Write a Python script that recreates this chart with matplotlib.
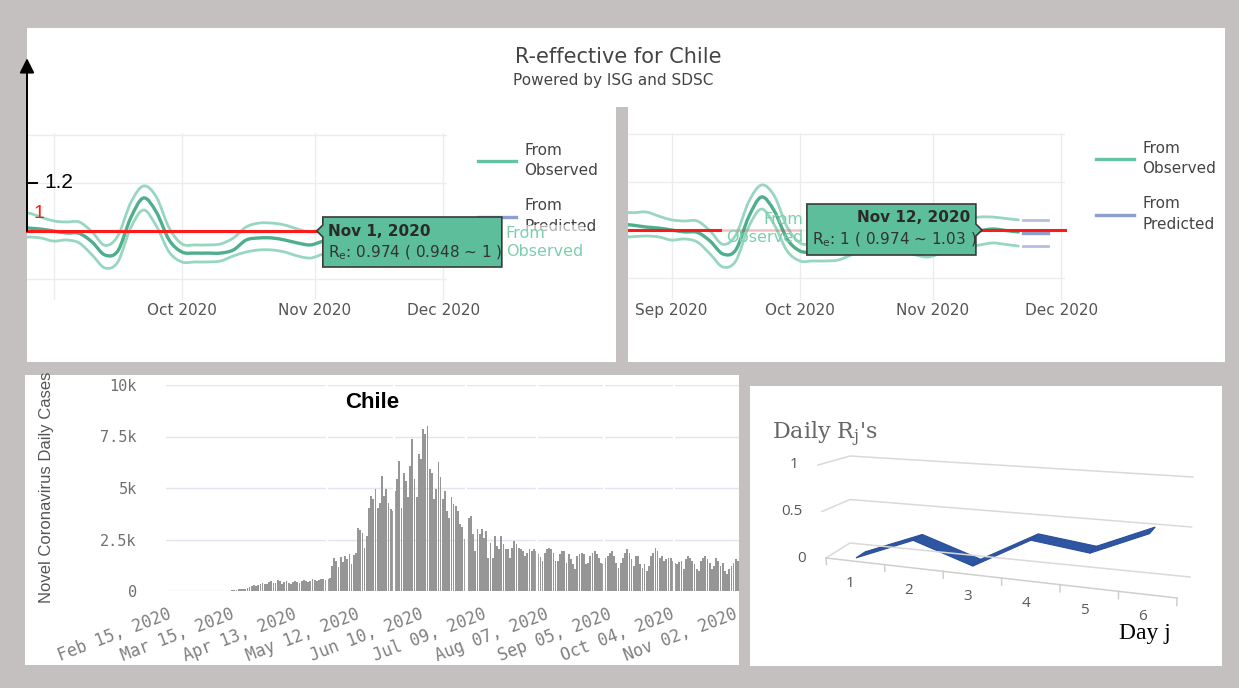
import numpy as np
import pandas as pd
import matplotlib
matplotlib.use('Agg')
import matplotlib.pyplot as plt
import matplotlib.dates as mdates
from matplotlib.patches import Rectangle, Polygon, PathPatch
from matplotlib.path import Path
from matplotlib.lines import Line2D

W, H = 1239, 688
GREY_BG = '#c4c0c0'
GREEN = '#66c2a5'
GREEN_DARK = '#4fae8c'
GREEN_BAND = '#98d7bf'
BLUE = '#8da0cb'
RED = '#ff1a1a'

# ── R-effective (from observed) ────────────────────────────────────────────
R_DATES = pd.to_datetime([
    '2020-08-20', '2020-08-23', '2020-08-26', '2020-08-29', '2020-09-01', '2020-09-04',
    '2020-09-07', '2020-09-10', '2020-09-13', '2020-09-16', '2020-09-19', '2020-09-22',
    '2020-09-25', '2020-09-28', '2020-10-01', '2020-10-04', '2020-10-07', '2020-10-10',
    '2020-10-13', '2020-10-16', '2020-10-19', '2020-10-22', '2020-10-25', '2020-10-28',
    '2020-10-31', '2020-11-03', '2020-11-06', '2020-11-09', '2020-11-12', '2020-11-15',
    '2020-11-18', '2020-11-21'])
R_MID = [1.025, 1.020, 1.0125, 1.008, 1.000, 0.992, 0.990, 0.954, 0.900, 0.917, 1.054, 1.1375,
         1.079, 0.9625, 0.9125, 0.908, 0.908, 0.908, 0.921, 0.9625, 0.971, 0.971, 0.9625, 0.950,
         0.942, 0.958, 0.971, 0.983, 0.996, 1.004, 0.998, 0.992]
R_UP = [1.075, 1.072, 1.075, 1.058, 1.042, 1.0375, 1.0375, 0.996, 0.940, 0.979, 1.117, 1.1875,
        1.142, 1.0125, 0.946, 0.942, 0.942, 0.946, 0.971, 1.017, 1.033, 1.033, 1.025, 1.008,
        0.996, 1.0125, 1.033, 1.046, 1.054, 1.054, 1.048, 1.042]
R_LO = [0.970, 0.972, 0.975, 0.971, 0.958, 0.9625, 0.950, 0.900, 0.846, 0.871, 1.0125, 1.0875,
        1.021, 0.9125, 0.871, 0.871, 0.871, 0.875, 0.896, 0.9125, 0.921, 0.921, 0.9125, 0.896,
        0.8875, 0.904, 0.917, 0.929, 0.9375, 0.946, 0.940, 0.933]

# ── R-effective (from predicted) ───────────────────────────────────────────
P_DATES = pd.to_datetime(['2020-11-22', '2020-11-28'])
P_MID = [0.9875, 0.9875]
P_UP = [1.042, 1.042]
P_LO = [0.933, 0.933]

# ── daily cases, Chile, from Feb 15 2020 ───────────────────────────────────
CASES_START = '2020-02-15'
CASES = [
    0, 0, 0, 0, 0, 0, 0, 0, 0, 0, 0, 0, 0, 0, 0, 0, 0,
    1, 0, 2, 1, 3, 6, 3, 10, 4, 13, 12, 14, 13,
    40, 60, 70, 80, 90, 100, 120, 130, 210, 250, 290, 260, 310, 320, 370, 340, 350, 420,
    480, 390, 410, 530, 470,
    350, 420, 480, 400, 360, 450, 500, 430, 380, 470, 520, 480, 420, 500, 560, 520, 470,
    540, 600, 580, 550,
    570,
    620, 1200, 1600, 1450, 1150, 1650, 1400, 1700, 1550, 1780, 1300, 1750, 1850,
    3080, 2950, 2800, 2100, 2670, 4050, 4600, 4450, 4940, 4050, 4290, 5590, 4620, 4940,
    4290, 4000, 3900,
    4860, 5430, 6320, 4050, 5750, 5350, 4540, 6075, 7370, 5430, 4540, 6640, 6400, 7860,
    7610, 8020, 5910, 5750, 4450, 4940, 6240, 5510, 4450, 4860, 3890, 3560, 4540, 4210,
    4130, 3890, 3240, 3100,
    2510, 2350, 3560, 3650, 2750, 1940, 3000, 2750, 3000, 2590, 2920, 1620, 2350, 1620,
    2670, 2190, 2030,
    2670, 2270, 2025, 2025, 1620, 2100, 2430, 2270, 2100, 2025, 1940, 1700, 1860, 2025,
    1940, 2025, 1940, 1800,
    1650, 1460, 1860, 2025, 2100, 2025, 1860, 1460, 1460, 1780, 1940, 1940, 1380, 1780,
    1540, 1300, 1050, 1700, 1780, 1860, 1780, 1300, 1380, 1700, 1860, 1940, 1780, 1620,
    1380, 1300, 1620, 1700,
    1860, 1940, 1700, 1380, 1130, 1380, 1620, 1860, 2025, 1860, 1540, 1215, 1700, 1700,
    1300, 1130, 1300, 970, 1215, 1700, 1860, 2100, 1940, 1620, 1700, 1460, 1540, 1590,
    1620, 1460, 1380, 1300, 1400,
    1460, 1050, 1540, 1700, 1620, 1460, 1300, 1050, 970, 1460, 1620, 1700, 1540, 1380,
    1050, 1215, 1620, 1460, 1215, 1380, 970, 810, 1050, 1215, 1380, 1540, 1460,
]
GAP_DAYS = [73.5, 104.5, 137.5, 170.5, 201.5, 233.5]   # white seams of the original render
Y_TICKS = [0, 2500, 5000, 7500, 10000]
Y_TICK_LABELS = ['0', '2.5k', '5k', '7.5k', '10k']

# ── daily Rj (3-D ribbon) ──────────────────────────────────────────────────
RJ_DAYS = [1, 2, 3, 4, 5, 6]
RJ = [0.03, 0.28, 0.08, 0.40, 0.33, 0.57]
RJ_TICKS = [0, 0.5, 1]
RJ_TICK_LABELS = ['0', '0.5', '1']


def box(l, t, r, b):
    return [l / W, 1 - b / H, (r - l) / W, (b - t) / H]


def to_img(ax, x, y):
    dx, dy = ax.transData.transform((x, y))
    return dx, H - dy


def spline(ax, xs, ys, **kw):
    pts = np.column_stack([xs, ys])
    n = len(pts)
    verts, codes = [pts[0]], [Path.MOVETO]
    for i in range(n - 1):
        p0, p1 = pts[max(i - 1, 0)], pts[i]
        p2, p3 = pts[i + 1], pts[min(i + 2, n - 1)]
        verts += [p1 + (p2 - p0) / 6, p2 - (p3 - p1) / 6, p2]
        codes += [Path.CURVE4] * 3
    ax.add_patch(PathPatch(Path(verts, codes), fill=False, capstyle='round', **kw))


fig = plt.figure(figsize=(W / 100, H / 100), dpi=100)
fig.patch.set_facecolor(GREY_BG)

bg = fig.add_axes([0, 0, 1, 1], zorder=0)
bg.set_xlim(0, W); bg.set_ylim(H, 0); bg.axis('off')
for (l, t, r, b) in [(27, 28, 1225, 362), (25, 375, 739, 665), (750, 386, 1222, 666)]:
    bg.add_patch(Rectangle((l, t), r - l, b - t, fc='white', ec='none'))
bg.add_patch(Rectangle((616, 107), 12, 257, fc=GREY_BG, ec='none'))

ov = fig.add_axes([0, 0, 1, 1], zorder=10)
ov.set_xlim(0, W); ov.set_ylim(H, 0); ov.axis('off')

# ── R-effective panels ─────────────────────────────────────────────────────
OCT1 = mdates.date2num(pd.Timestamp('2020-10-01'))
PX_DAY = 4.28
MONTHS = pd.to_datetime(['2020-09-01', '2020-10-01', '2020-11-01', '2020-12-01'])
xr = mdates.date2num(R_DATES)
xp = mdates.date2num(P_DATES)


def re_panel(l, r, x_oct1, y_one, labels):
    ax = fig.add_axes(box(l, 133, r, 300), zorder=2)
    ax.set_facecolor('none')
    ax.set_xlim(OCT1 - (x_oct1 - l) / PX_DAY, OCT1 + (r - x_oct1) / PX_DAY)
    ax.set_ylim(1 - (300 - y_one) / 240, 1 + (y_one - 133) / 240)
    ax.set_yticks([0.8, 1.0, 1.2, 1.4]); ax.set_yticklabels([])
    ax.set_xticks(mdates.date2num(MONTHS)); ax.set_xticklabels(labels)
    ax.tick_params(length=0, pad=2, labelsize=11, labelcolor='#555555')
    ax.grid(color='#ececec', lw=1)
    for s in ax.spines.values():
        s.set_visible(False)
    spline(ax, xr, R_UP, color=GREEN_BAND, lw=2.0, zorder=3)
    spline(ax, xr, R_LO, color=GREEN_BAND, lw=2.0, zorder=3)
    spline(ax, xr, R_MID, color=GREEN_DARK, lw=2.4, zorder=4)
    ax.plot(xp, P_UP, color='#b3bfe3', lw=2, zorder=3)
    ax.plot(xp, P_LO, color='#b3bfe3', lw=2, zorder=3)
    ax.plot(xp, P_MID, color=BLUE, lw=2.4, zorder=4)
    return ax


ax_l = re_panel(27, 447, 182, 231, ['', 'Oct 2020', 'Nov 2020', 'Dec 2020'])
ax_r = re_panel(628, 1065, 800, 230, ['Sep 2020', 'Oct 2020', 'Nov 2020', 'Dec 2020'])

for ax, anchor in [(ax_l, (478, 143)), (ax_r, (1096, 141))]:
    handles = [Line2D([], [], color=GREEN, lw=2.4), Line2D([], [], color=BLUE, lw=2.4)]
    leg = ax.legend(handles, ['From\nObserved', 'From\nPredicted'], loc='upper left',
                    bbox_to_anchor=(anchor[0] / W, 1 - anchor[1] / H),
                    bbox_transform=fig.transFigure, frameon=False, fontsize=11,
                    labelcolor='#444444', handlelength=2.5, handletextpad=0.55,
                    labelspacing=1.3, borderpad=0, borderaxespad=0)
    for t in leg.get_texts():
        t.set_linespacing(1.45)

# red reference line R = 1 (hand annotation)
x0l = ax_l.get_xlim()[0]
ax_l.plot([x0l, OCT1 + 32.2], [1, 1], color=RED, lw=2.2, zorder=6, clip_on=False)
x0r, x1r = ax_r.get_xlim()
ax_r.plot([x0r, OCT1 - 18.7], [1, 1], color=RED, lw=2.2, zorder=6)
ax_r.plot([OCT1 - 18.7, OCT1], [1, 1], color=RED, lw=2.2, alpha=0.2, zorder=6)
ax_r.plot([OCT1 + 41.6, x1r], [1, 1], color=RED, lw=2.2, zorder=6, clip_on=False)

# hand-drawn y axis arrow on the left panel
ax_l.annotate('', xy=(x0l, 1.72), xytext=(x0l, 1.0), annotation_clip=False,
              arrowprops=dict(arrowstyle='-|>', color='black', lw=1.4, mutation_scale=22,
                              shrinkA=0, shrinkB=0), zorder=7)
ax_l.plot([x0l, x0l + 2.4], [1.2, 1.2], color='black', lw=1.4, clip_on=False, zorder=7)
ax_l.text(x0l + 4.0, 1.2, '1.2', fontsize=15, color='black', va='center', ha='left',
          family='Liberation Sans', zorder=7)
ax_l.text(x0l + 1.6, 1.075, '1', fontsize=14, color=RED, va='center', ha='left',
          family='Liberation Sans', zorder=7)

fig.text(618 / W, 1 - 57 / H, 'R-effective for Chile', ha='center', va='center',
         fontsize=15, color='#444444', zorder=11)
fig.text(613 / W, 1 - 80 / H, 'Powered by ISG and SDSC', ha='center', va='center',
         fontsize=11, color='#444444', zorder=11)

# hover tooltips
TIP_FC = '#5dbe9c'
tx, ty = to_img(ax_l, OCT1 + 31.5, 1.0)
ov.add_patch(Polygon([(tx, ty), (tx + 6, ty - 6), (tx + 6, ty - 14), (tx + 185, ty - 14),
                      (tx + 185, ty + 36), (tx + 6, ty + 36), (tx + 6, ty + 6)],
                     closed=True, fc=TIP_FC, ec='#3a3a3a', lw=1.2))
ov.text(tx + 11, ty, 'Nov 1, 2020', fontsize=11, fontweight='bold', color='#2a2a2a', va='center')
ov.text(tx + 11, ty + 22, r'R$_\mathregular{e}$: 0.974 ( 0.948 ~ 1 )', fontsize=11,
        color='#333333', va='center')
ov.text(tx + 189, ty + 11, 'From\nObserved', fontsize=11.5, color='#7ccfae', va='center',
        ha='left', linespacing=1.25,
        bbox=dict(boxstyle='square,pad=0.05', fc='white', ec='none', alpha=0.6))

tx, ty = to_img(ax_r, OCT1 + 42.5, 1.0)
ov.add_patch(Polygon([(tx, ty), (tx - 6, ty - 6), (tx - 6, ty - 26), (tx - 175, ty - 26),
                      (tx - 175, ty + 25), (tx - 6, ty + 25), (tx - 6, ty + 6)],
                     closed=True, fc=TIP_FC, ec='#3a3a3a', lw=1.2))
ov.text(tx - 12, ty - 12, 'Nov 12, 2020', fontsize=11, fontweight='bold', color='#2a2a2a',
        va='center', ha='right')
ov.text(tx - 170, ty + 10, r'R$_\mathregular{e}$: 1 ( 0.974 ~ 1.03 )', fontsize=11,
        color='#333333', va='center')
ov.text(tx - 179, ty - 1, 'From\nObserved', fontsize=11.5, color='#7ccfae', va='center',
        ha='right', multialignment='right', linespacing=1.25)

# ── daily cases bar chart ──────────────────────────────────────────────────
ax_b = fig.add_axes(box(166, 385, 739, 591), zorder=2)
ax_b.set_facecolor('none')
dates = pd.date_range(CASES_START, periods=len(CASES), freq='D')
xb = mdates.date2num(dates)
ax_b.bar(xb, CASES, width=0.82, color='#969696', zorder=2)
for g in GAP_DAYS:
    ax_b.axvline(xb[0] + g, color='white', lw=1.6, zorder=3)
ax_b.set_xlim(xb[0] - 0.5, xb[-1] + 0.5)
ax_b.set_ylim(0, 10000)
ax_b.set_yticks(Y_TICKS); ax_b.set_yticklabels(Y_TICK_LABELS)
ax_b.set_xticks(xb[::29]); ax_b.set_xticklabels(dates[::29].strftime('%b %d, %Y'))
ax_b.grid(axis='y', color='#e4e4ee', lw=1, zorder=0)
for s in ax_b.spines.values():
    s.set_visible(False)
ax_b.tick_params(axis='y', length=0, pad=21, labelsize=11, labelcolor='#707070')
ax_b.tick_params(axis='x', length=0, pad=10, labelsize=12, labelcolor='#7f7f7f')
for lab in ax_b.get_yticklabels() + ax_b.get_xticklabels():
    lab.set_family('DejaVu Sans Mono')
for lab in ax_b.get_xticklabels():
    lab.set_rotation(21); lab.set_ha('right'); lab.set_va('top')
    lab.set_rotation_mode('anchor')
fig.text(47 / W, 1 - 487 / H, 'Novel Coronavirus Daily Cases', rotation=90, ha='center',
         va='center', fontsize=12, color='#555555', family='Liberation Sans', zorder=11)
fig.text(372 / W, 1 - 402 / H, 'Chile', ha='center', va='center', fontsize=16,
         fontweight='bold', color='black', family='Liberation Sans', zorder=11)

# ── daily Rj pseudo 3-D chart (Excel style) ────────────────────────────────
CORNERS = {(0, 0, 0): (826, 558), (1, 0, 0): (1177, 598), (0, 1, 0): (850, 543),
           (1, 1, 0): (1190, 577), (0, 0, 1): (818, 465), (1, 0, 1): (1180, 491),
           (0, 1, 1): (850, 456), (1, 1, 1): (1193, 477)}


def proj(c, z, v):
    u = c / 6.0
    px = py = 0.0
    for (a, b, e), (X, Y) in CORNERS.items():
        w = (u if a else 1 - u) * (z if b else 1 - z) * (v if e else 1 - v)
        px += w * X
        py += w * Y
    return px, py


for v, lab in zip(RJ_TICKS, RJ_TICK_LABELS):
    pts = [proj(0, 0, v), proj(0, 1, v), proj(6, 1, v)]
    ov.plot([p[0] for p in pts], [p[1] for p in pts], color='#d9d9d9', lw=1.1)
    fx, fy = proj(0, 0, v)
    ov.text(fx - 20, fy, lab, ha='right', va='center', fontsize=11, color='#595959',
            family='Open Sans')
a, b = proj(0, 0, 0), proj(6, 0, 0)
ov.plot([a[0], b[0]], [a[1], b[1]], color='#cfcfcf', lw=1.1)
for c in range(7):
    p, q = proj(c, 0, 0), proj(c, 0, -0.07)
    ov.plot([p[0], q[0]], [p[1], q[1]], color='#cfcfcf', lw=1.1)
for d in RJ_DAYS:
    px, py = proj(d - 0.5, 0, 0)
    ov.text(px - 5, py + 22, str(d), ha='center', va='center', fontsize=11, color='#595959',
            family='Open Sans')

ZA, ZB = 0.04, 0.44
for i in range(len(RJ) - 1):
    c1, c2 = RJ_DAYS[i] - 0.5, RJ_DAYS[i + 1] - 0.5
    poly = [proj(c1, ZA, RJ[i]), proj(c2, ZA, RJ[i + 1]),
            proj(c2, ZB, RJ[i + 1]), proj(c1, ZB, RJ[i])]
    ov.add_patch(Polygon(poly, closed=True, fc='#2f56a3', ec='#2a4f98', lw=0.8))

ov.text(772, 434, r"Daily R$_\mathregular{j}$'s", ha='left', va='center', fontsize=16,
        color='#666666', family='DejaVu Serif')
ov.text(1145, 633, 'Day j', ha='center', va='center', fontsize=17, color='black',
        family='Liberation Serif')

fig.savefig('out.png', dpi=100, facecolor=GREY_BG)
